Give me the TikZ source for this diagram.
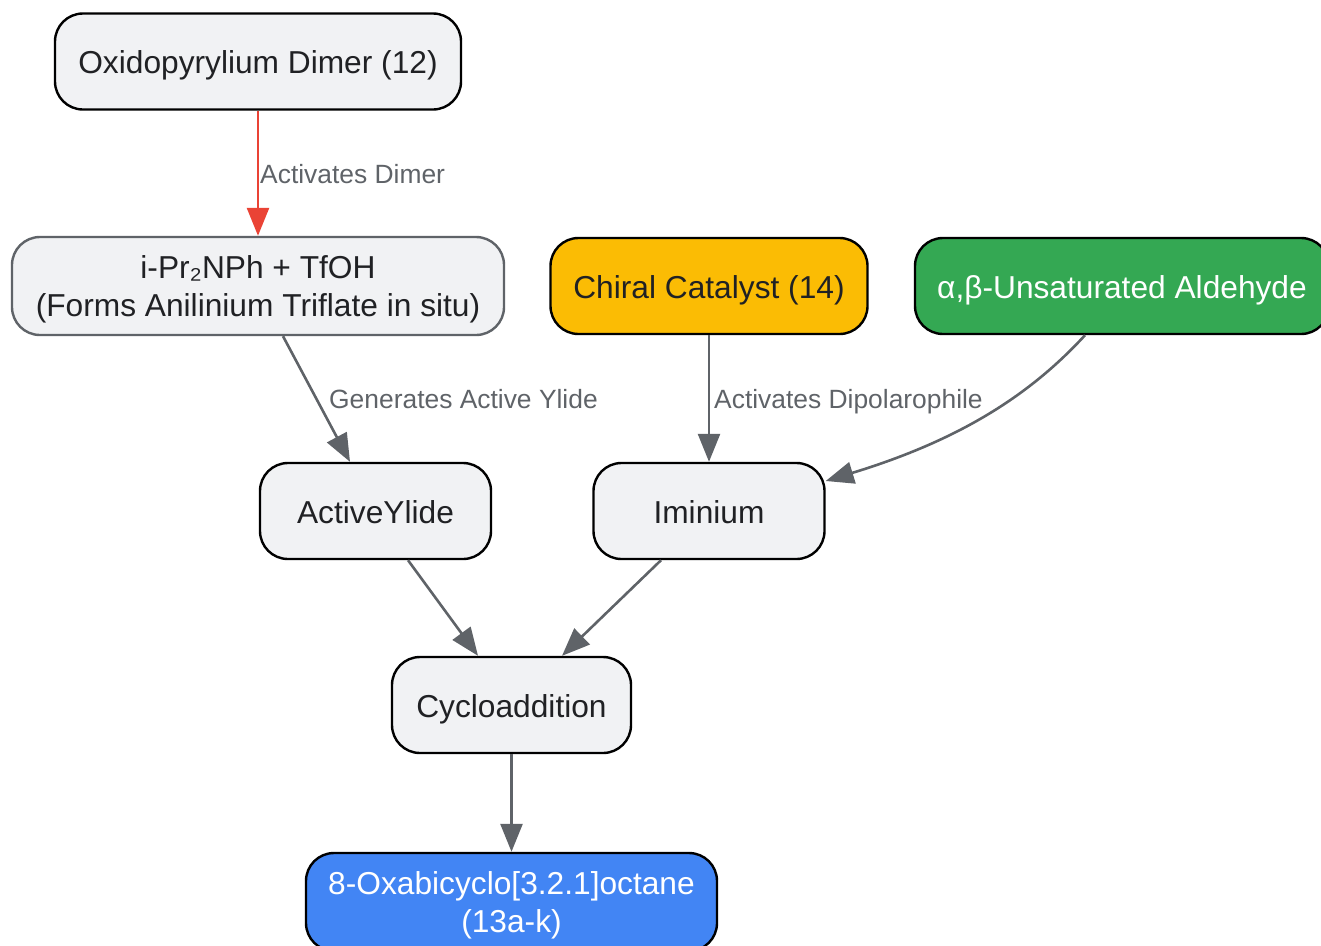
\documentclass[tikz,border=0pt]{standalone}
\usepackage{fontspec}
\setmainfont{Liberation Sans}
\usetikzlibrary{arrows.meta}
\definecolor{nodefill}{HTML}{F1F2F4}
\definecolor{txt}{HTML}{202124}
\definecolor{edgegray}{HTML}{5F6368}
\definecolor{redc}{HTML}{EA4335}
\definecolor{amber}{HTML}{FBBC04}
\definecolor{greenc}{HTML}{34A853}
\definecolor{bluec}{HTML}{4285F4}
\tikzset{
  box/.style={draw=black, line width=2.4bp, fill=nodefill, rounded corners=28bp,
    text=txt, font=\fontsize{31.7bp}{38bp}\selectfont, align=center,
    inner sep=0pt, minimum height=96bp, text height=31bp, text depth=6.7bp},
  twoline/.style={text height=67.5bp, text depth=6.7bp},
  conn/.style={draw=edgegray, line width=2.6bp, -{Triangle[length=28bp,width=22bp]}},
  lbl/.style={text=edgegray, font=\fontsize{26.4bp}{32bp}\selectfont, anchor=west, inner sep=0pt,
    text height=19.3bp, text depth=0bp}
}
\begin{document}
\begin{tikzpicture}[x=1bp,y=-1bp]
\useasboundingbox (0,0) rectangle (1321,945);
\node[box, minimum width=406bp] (dimer) at (258,61.5) {Oxidopyrylium Dimer (12)};
\node[box, twoline, draw=edgegray, minimum width=492bp, minimum height=98bp] (ipr) at (258,286) {i-Pr₂NPh + TfOH\\(Forms Anilinium Triflate in situ)};
\node[box, fill=amber, minimum width=317bp] (cat) at (709,286) {Chiral Catalyst (14)};
\node[box, fill=greenc, text=white, minimum width=414bp] (ald) at (1122,286) {α,β-Unsaturated Aldehyde};
\node[box, minimum width=231bp] (ylide) at (375.5,511) {ActiveYlide};
\node[box, minimum width=231bp] (imin) at (709,511) {Iminium};
\node[box, minimum width=239bp] (cyclo) at (511.5,705) {Cycloaddition};
\node[box, twoline, fill=bluec, text=white, minimum width=411bp, minimum height=98bp] (prod) at (511.5,902) {8-Oxabicyclo[3.2.1]octane\\(13a-k)};

\draw[conn, draw=redc, -{Triangle[length=28bp,width=22bp,fill=redc]}] (dimer) -- (ipr);
\node[lbl] (l1) at (260,174) {Activates Dimer};
\draw[conn] ([xshift=25bp]ipr.south) -- ([xshift=-25.5bp]ylide.north);
\node[lbl] (l2) at (329,399) {Generates Active Ylide};
\draw[conn] (cat) -- (imin);
\node[lbl] (l3) at (714,399) {Activates Dipolarophile};
\draw[conn] ([xshift=-37bp]ald.south) .. controls (1030,395) and (960,440) .. ([yshift=30bp]imin.east);
\draw[conn] ([xshift=32.5bp]ylide.south) -- ([xshift=-33.5bp]cyclo.north);
\draw[conn] ([xshift=-48bp]imin.south) -- ([xshift=50.5bp]cyclo.north);
\draw[conn] (cyclo) -- (prod);
\end{tikzpicture}
\end{document}
